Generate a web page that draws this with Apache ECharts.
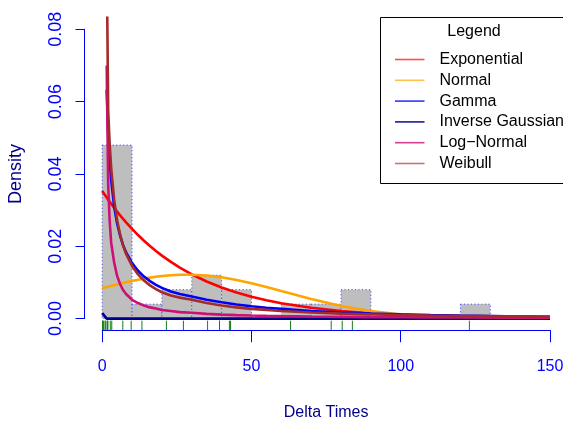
<!DOCTYPE html>
<html><head><meta charset="utf-8">
<script src="https://cdn.jsdelivr.net/npm/echarts@6/dist/echarts.min.js"></script>
<style>html,body{margin:0;padding:0;background:#fff}#c{width:563px;height:427px}</style>
</head><body><div id="c"></div>
<script>
// ---- data ----
const xTicks = [0, 50, 100, 150];
const yTicks = [0, 0.02, 0.04, 0.06, 0.08];
const binStarts = [0, 10, 20, 30, 40, 50, 60, 70, 80, 90, 100, 110, 120];
const binWidth = 10;
const densities = [0.048, 0.004, 0.008, 0.012, 0.008, 0, 0.004, 0.004, 0.008, 0, 0, 0, 0.004];
const rugValues = [0.1, 0.2, 0.4, 1.0, 1.0, 1.6, 1.8, 1.9, 2.7, 3.2, 6.9, 9.7, 13.3, 21.5, 27.2, 35.3, 39.3, 39.3, 42.6, 43.0, 63.1, 76.7, 80.4, 83.8, 123.0];
const curveX = [0, 1.5, 2, 2.5, 3, 4, 5, 6, 7, 8, 10, 12, 14, 16, 18, 20, 23, 26, 30, 35, 40, 45, 50, 55, 60, 70, 80, 90, 100, 110, 120, 135, 150];
const expY = [0.0353, 0.03348, 0.03289, 0.03232, 0.03175, 0.03065, 0.02959, 0.02856, 0.02757, 0.02662, 0.0248, 0.02311, 0.02153, 0.02007, 0.0187, 0.01742, 0.01567, 0.0141, 0.01224, 0.01026, 0.0086, 0.00721, 0.00604, 0.00507, 0.00425, 0.00298, 0.0021, 0.00147, 0.00103, 0.000727, 0.00051, 0.000301, 0.000177];
const normY = [0.00838, 0.00871, 0.00882, 0.00893, 0.00903, 0.00924, 0.00945, 0.00965, 0.00985, 0.01004, 0.01041, 0.01075, 0.01106, 0.01133, 0.01158, 0.01178, 0.012, 0.01213, 0.01214, 0.01191, 0.01141, 0.01068, 0.00977, 0.00873, 0.00762, 0.00542, 0.00351, 0.00207, 0.00112, 0.000547, 0.000244, 0.0000613, 0.0000125];
const gammaY = [null, 0.0633, 0.0515, 0.0438, 0.0384, 0.031, 0.0263, 0.0229, 0.0203, 0.0183, 0.01534, 0.01322, 0.01162, 0.01036, 0.00934, 0.00849, 0.0075, 0.0068, 0.0061, 0.0052, 0.0045, 0.0039, 0.0034, 0.003, 0.0027, 0.0021, 0.0017, 0.00141, 0.00118, 0.00099, 0.00084, 0.00066, 0.00052];
const invGaussY = [0.0015, 0, 0, 0, 0, 0, 0, 0, 0, 0, 0, 0, 0, 0, 0, 0, 0, 0, 0, 0, 0, 0, 0, 0, 0, 0, 0, 0, 0, 0, 0, 0, 0];
const logNormY = [null, 0.07, 0.037, 0.027, 0.021, 0.0155, 0.0118, 0.0095, 0.0079, 0.0068, 0.0052, 0.0043, 0.0036, 0.0031, 0.0028, 0.0024, 0.0021, 0.0018, 0.0016, 0.0013, 0.0011, 0.00095, 0.00084, 0.00075, 0.00068, 0.00056, 0.00048, 0.00042, 0.00037, 0.00033, 0.0003, 0.00026, 0.00023];
const weibullY = [null, 0.1, 0.0576, 0.0483, 0.0417, 0.0329, 0.0272, 0.0232, 0.0202, 0.0179, 0.01456, 0.01223, 0.01051, 0.00919, 0.00814, 0.00729, 0.0064, 0.0058, 0.0052, 0.0043, 0.0036, 0.0031, 0.0027, 0.0024, 0.0021, 0.0017, 0.00137, 0.00116, 0.000995, 0.000864, 0.000757, 0.000631, 0.000533];
const seriesNames = ['Exponential', 'Normal', 'Gamma', 'Inverse Gaussian', 'Log\u2212Normal', 'Weibull'];
const seriesY = [expY, normY, gammaY, invGaussY, logNormY, weibullY];
const seriesColors = ['#FF0000', '#FFA500', '#0000FF', '#00008B', '#CD1076', '#A52A2A'];
const legendColors = ['rgba(255,0,0,0.7)', 'rgba(255,165,0,0.7)', 'rgba(0,0,255,0.8)', 'rgba(0,0,139,0.9)', 'rgba(205,16,118,0.8)', 'rgba(165,42,42,0.65)'];

// ---- chart ----
const FONT = '"Liberation Sans", Arial, Helvetica, sans-serif';
const chart = echarts.init(document.getElementById('c'), null, {renderer: 'canvas'});

const lineSeries = seriesNames.map((name, i) => ({
  name: name,
  type: 'line',
  xAxisIndex: 0, yAxisIndex: 0,
  data: curveX.map((x, j) => [x, seriesY[i][j]]).filter(p => p[1] !== null),
  showSymbol: false, symbol: 'none',
  clip: true,
  lineStyle: {color: seriesColors[i], width: 2.6},
  itemStyle: {color: seriesColors[i]},
  z: 3 + i,
  animation: false
}));

const legendRowY0 = 59.5, legendPitch = 20.8;
const graphics = [
  {type: 'rect', shape: {x: 380.5, y: 17.5, width: 220, height: 166}, style: {fill: '#fff', stroke: '#000', lineWidth: 1}, z: 20},
  {type: 'text', x: 474, y: 32, style: {text: 'Legend', font: '16px ' + FONT, fill: '#000', align: 'center', verticalAlign: 'middle'}, z: 21}
];
seriesNames.forEach((n, i) => {
  const y = legendRowY0 + legendPitch * i;
  graphics.push({type: 'line', shape: {x1: 395, y1: y, x2: 424.5, y2: y}, style: {stroke: legendColors[i], lineWidth: 1.6}, z: 21});
  graphics.push({type: 'text', x: 439.5, y: y, style: {text: n, font: '16px ' + FONT, fill: '#000', align: 'left', verticalAlign: 'middle'}, z: 21});
});

const option = {
  animation: false,
  backgroundColor: '#fff',
  grid: [
    {left: 84.3, right: -4.9, top: 17.75, bottom: 96.83, containLabel: false, outerBoundsMode: 'none'},
    {left: 102.2, right: 13, top: 29.3, bottom: 108.4, containLabel: false, outerBoundsMode: 'none'}
  ],
  xAxis: [
    {gridIndex: 0, type: 'value', min: -6, max: 156, show: false},
    {gridIndex: 1, type: 'value', min: xTicks[0], max: xTicks[xTicks.length - 1], interval: xTicks[1] - xTicks[0],
     offset: 11.6,
     axisLine: {show: true, onZero: false, lineStyle: {color: '#0000FF', width: 1}},
     axisTick: {show: true, length: 12, lineStyle: {color: '#0000FF', width: 1}},
     axisLabel: {color: '#0000FF', fontSize: 16, fontFamily: FONT, margin: 28, lineHeight: 16},
     splitLine: {show: false},
     name: 'Delta Times', nameLocation: 'middle', nameGap: 74.5,
     nameTextStyle: {color: '#00008B', fontSize: 16, fontFamily: FONT, lineHeight: 16}}
  ],
  yAxis: [
    {gridIndex: 0, type: 'value', min: -0.0032, max: 0.0832, show: false},
    {gridIndex: 1, type: 'value', min: yTicks[0], max: yTicks[yTicks.length - 1], interval: yTicks[1] - yTicks[0],
     offset: 17.7,
     axisLine: {show: true, onZero: false, lineStyle: {color: '#0000FF', width: 1}},
     axisTick: {show: true, length: 9, lineStyle: {color: '#0000FF', width: 1}},
     axisLabel: {color: '#0000FF', fontSize: 18, fontFamily: FONT, rotate: 90, margin: 19.5, lineHeight: 18,
                 formatter: v => v.toFixed(2)},
     splitLine: {show: false},
     name: 'Density', nameLocation: 'middle', nameGap: 59.5, nameRotate: 90,
     nameTextStyle: {color: '#00008B', fontSize: 18, fontFamily: FONT, lineHeight: 18}}
  ],
  series: [
    {
      type: 'custom', name: 'hist', xAxisIndex: 0, yAxisIndex: 0, clip: false, z: 1,
      data: binStarts.map((s, i) => [s, densities[i]]),
      renderItem: function (params, api) {
        const x0 = api.value(0), d = api.value(1);
        const p0 = api.coord([x0, d]);
        const p1 = api.coord([x0 + binWidth, 0]);
        return {type: 'rect',
          shape: {x: p0[0], y: p0[1], width: p1[0] - p0[0], height: p1[1] - p0[1]},
          style: {fill: '#BEBEBE', stroke: '#3A3AFF', lineWidth: 1, lineDash: [1, 2.5]}};
      }
    },
    {
      type: 'custom', name: 'rug', xAxisIndex: 0, yAxisIndex: 0, clip: false, z: 2,
      data: rugValues.map(v => [v, 0]),
      renderItem: function (params, api) {
        const p = api.coord([api.value(0), 0]);
        const bottom = params.coordSys.y + params.coordSys.height;
        return {type: 'line', shape: {x1: p[0], y1: bottom, x2: p[0], y2: bottom - 9.5},
          style: {stroke: '#137F13', lineWidth: 1}};
      }
    }
  ].concat(lineSeries),
  graphic: graphics
};
chart.setOption(option);
</script>
</body></html>
